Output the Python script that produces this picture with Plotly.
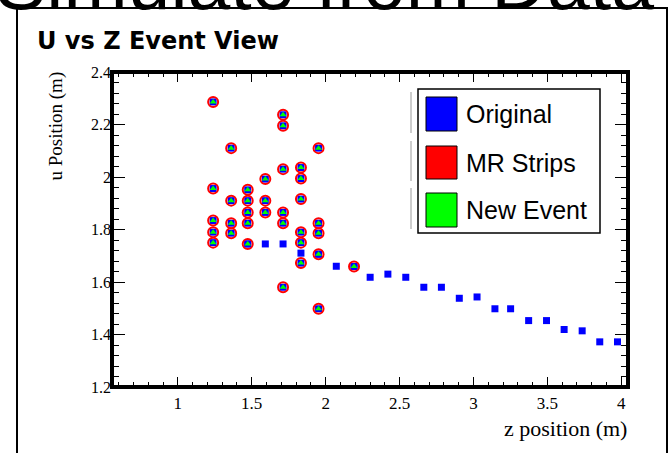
import plotly.graph_objects as go

# ---------------- data ----------------
# "Original" track hits (blue squares)
orig_z = [1.473, 1.592, 1.712, 1.833, 1.952, 2.072, 2.192, 2.301, 2.421, 2.542,
          2.664, 2.783, 2.904, 3.024, 3.145, 3.251, 3.373, 3.494, 3.613, 3.735,
          3.854, 3.974]
orig_u = [1.745, 1.745, 1.745, 1.710, 1.706, 1.660, 1.659, 1.618, 1.630, 1.618,
          1.580, 1.580, 1.538, 1.543, 1.498, 1.498, 1.453, 1.453, 1.419, 1.414,
          1.372, 1.372]

# "MR Strips" / "New Event" hits (red rings, green triangles)
mr_z = [1.239, 1.712, 1.712, 1.361, 1.952, 1.712, 1.833, 1.833, 1.592, 1.239,
        1.473, 1.361, 1.473, 1.592, 1.833, 1.473, 1.592, 1.712, 1.239, 1.361,
        1.473, 1.712, 1.952, 1.239, 1.361, 1.833, 1.952, 1.239, 1.473, 1.833,
        1.952, 1.833, 1.712, 1.952, 2.192]
mr_u = [2.286, 2.237, 2.195, 2.110, 2.110, 2.030, 2.036, 1.994, 1.992, 1.956,
        1.951, 1.910, 1.910, 1.910, 1.916, 1.865, 1.865, 1.865, 1.834, 1.824,
        1.824, 1.824, 1.824, 1.790, 1.786, 1.790, 1.786, 1.750, 1.745, 1.750,
        1.706, 1.672, 1.580, 1.498, 1.659]

series_names = ["Original", "MR Strips", "New Event"]
series_colors = ["#0000ff", "#ff0000", "#00ff00"]

x_range = [0.555, 4.045]
y_range = [1.2, 2.4]
x_tick_vals = [1, 1.5, 2, 2.5, 3, 3.5, 4]
y_tick_vals = [1.2, 1.4, 1.6, 1.8, 2.0, 2.2, 2.4]
y_tick_text = ["1.2", "1.4", "1.6", "1.8", "2", "2.2", "2.4"]

title_text = "U vs Z Event View"
slide_title = "Simulate from Data"
x_title = "z position (m)"
y_title = "u Position (m)"

# ---------------- layout geometry ----------------
W, H = 671, 453
L, R, T, B = 112, 43, 72, 66
PW, PH = W - L - R, H - T - B


def pxx(px):
    return (px - L) / PW


def pxy(py):
    return (H - B - py) / PH


fig = go.Figure()

# blue squares (original hits + the hits under the strips)
fig.add_trace(go.Scatter(x=orig_z, y=orig_u, mode="markers", name=series_names[0],
                         marker=dict(symbol="square", size=7, color=series_colors[0]),
                         showlegend=False))
fig.add_trace(go.Scatter(x=mr_z, y=mr_u, mode="markers", name=series_names[0],
                         marker=dict(symbol="square", size=7, color=series_colors[0]),
                         showlegend=False))
# red rings
fig.add_trace(go.Scatter(x=mr_z, y=mr_u, mode="markers", name=series_names[1],
                         marker=dict(symbol="circle-open", size=10,
                                     color=series_colors[1],
                                     line=dict(width=2, color=series_colors[1])),
                         showlegend=False))
# green triangles
fig.add_trace(go.Scatter(x=mr_z, y=mr_u, mode="markers", name=series_names[2],
                         marker=dict(symbol="triangle-up", size=6, color=series_colors[2]),
                         showlegend=False))

serif = "Liberation Serif, Times New Roman, serif"
sans = "Liberation Sans, Arial, sans-serif"

fig.update_xaxes(range=x_range, tickmode="array", tickvals=x_tick_vals,
                 ticks="inside", ticklen=10, tickwidth=1, tickcolor="black",
                 ticklabelstandoff=4,
                 minor=dict(dtick=0.1, tick0=1, ticks="inside", ticklen=5,
                            tickwidth=1, tickcolor="black"),
                 mirror="allticks", showline=False, showgrid=False, zeroline=False,
                 tickfont=dict(family=serif, size=17, color="black"))
fig.update_yaxes(range=y_range, tickmode="array", tickvals=y_tick_vals,
                 ticktext=y_tick_text,
                 ticks="inside", ticklen=13, tickwidth=1, tickcolor="black",
                 minor=dict(dtick=0.04, tick0=1.2, ticks="inside", ticklen=7,
                            tickwidth=1, tickcolor="black"),
                 mirror="allticks", showline=False, showgrid=False, zeroline=False,
                 tickfont=dict(family=serif, size=16, color="black"))

shapes = []
# slide frame
shapes.append(dict(type="rect", xref="paper", yref="paper",
                   x0=pxx(17), x1=pxx(667), y0=pxy(480), y1=pxy(8),
                   line=dict(color="black", width=2), layer="below"))
# plot frame
shapes.append(dict(type="rect", xref="paper", yref="paper", x0=0, x1=1, y0=0, y1=1,
                   line=dict(color="black", width=4)))
# legend box
shapes.append(dict(type="rect", xref="paper", yref="paper",
                   x0=pxx(418), x1=pxx(600), y0=pxy(233), y1=pxy(89),
                   line=dict(color="black", width=1.5), fillcolor="white"))
annotations = []
rows = [(97, 131), (146, 179), (193, 227)]
for (ya, yb), name, col in zip(rows, series_names, series_colors):
    shapes.append(dict(type="rect", xref="paper", yref="paper",
                       x0=pxx(426), x1=pxx(457), y0=pxy(yb), y1=pxy(ya),
                       line=dict(color="black", width=1), fillcolor=col))
    shapes.append(dict(type="line", xref="paper", yref="paper",
                       x0=pxx(411), x1=pxx(411), y0=pxy(yb + 2), y1=pxy(ya - 5),
                       line=dict(color="#9a9a9a", width=1)))
    annotations.append(dict(text=name, xref="paper", yref="paper",
                            x=pxx(464), y=pxy((ya + yb) / 2), xanchor="left",
                            yanchor="middle", showarrow=False,
                            font=dict(family=sans, size=25, color="black")))

# titles
annotations.append(dict(text="<b>" + title_text + "</b>", xref="paper", yref="paper",
                        x=pxx(35), y=pxy(41), xanchor="left", yanchor="middle",
                        showarrow=False,
                        font=dict(family="DejaVu Sans, sans-serif", size=24,
                                  color="black")))
annotations.append(dict(text=slide_title, xref="paper", yref="paper",
                        x=pxx(656), y=pxy(27), xanchor="right", yanchor="bottom",
                        showarrow=False, font=dict(family=sans, size=77, color="black")))
annotations.append(dict(text=x_title, xref="paper", yref="paper",
                        x=pxx(629), y=pxy(428), xanchor="right", yanchor="middle",
                        showarrow=False, font=dict(family=serif, size=22, color="black")))
annotations.append(dict(text=y_title, xref="paper", yref="paper",
                        x=pxx(55), y=pxy(70), xanchor="center", yanchor="top",
                        textangle=-90, showarrow=False,
                        font=dict(family=serif, size=19, color="black")))

fig.update_layout(width=W, height=H, margin=dict(l=L, r=R, t=T, b=B, autoexpand=False),
                  paper_bgcolor="white", plot_bgcolor="white", showlegend=False,
                  shapes=shapes, annotations=annotations)

fig.write_html("out.html")
